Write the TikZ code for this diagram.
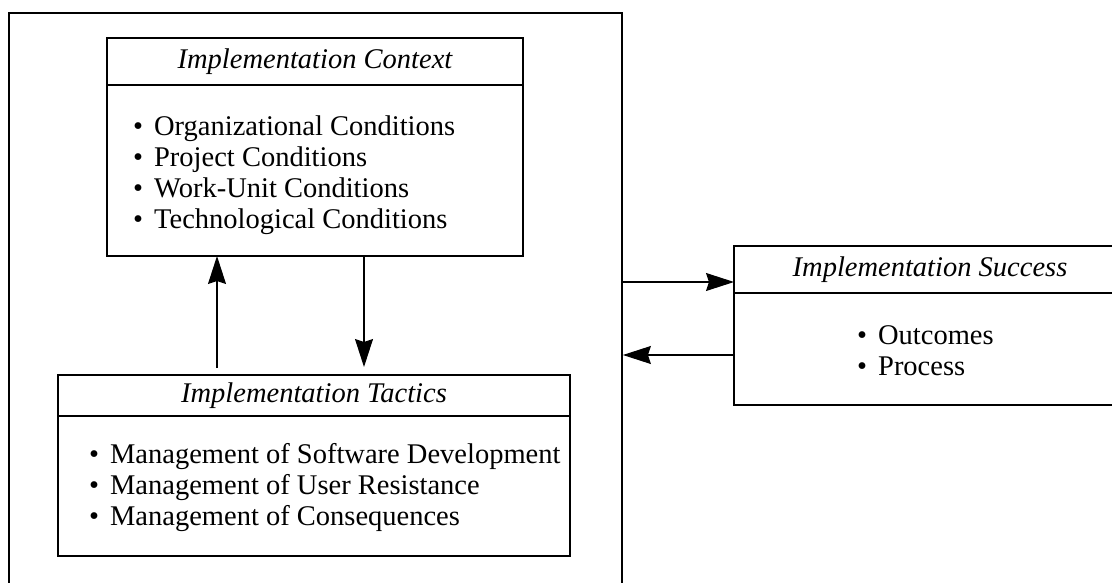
\documentclass[tikz,border=0pt]{standalone}
\usepackage{fontspec}
\setmainfont{Liberation Serif}
\usetikzlibrary{positioning,arrows.meta}
\newcommand{\itm}{\textbullet\hspace{11pt}}
\newcommand{\boxfont}{\fontsize{28.5}{31}\selectfont}
\tikzset{
  head/.style={draw, line width=1.2pt, inner sep=0pt, outer sep=0pt, font=\boxfont\itshape},
  body/.style={draw, line width=1.2pt, inner sep=0pt, outer sep=0pt},
  items/.style={align=left, anchor=west, inner sep=0pt, font=\boxfont},
  arrow/.style={-{Stealth[length=28pt,width=18pt,inset=3pt]}, line width=1.2pt},
}
\begin{document}
\begin{tikzpicture}[x=1pt,y=-1pt]
  \clip (0,0) rectangle (1112,583);
  % outer frame, open at the bottom of the page
  \node[draw, line width=1.8pt, minimum width=613pt, minimum height=600pt] (frame) at (315.5,313) {};

  % context
  \node[head, minimum width=416pt, minimum height=47pt] (ctxhead) at (315,61.5) {Implementation Context};
  \node[body, minimum width=416pt, minimum height=171pt, below=0pt of ctxhead] (ctxbody) {};
  \node[items] (ctxitems) at ([xshift=26pt,yshift=-4.5pt]ctxbody.west) {\itm Organizational Conditions\\ \itm Project Conditions\\ \itm Work-Unit Conditions\\ \itm Technological Conditions};

  % tactics
  \node[head, minimum width=512pt, minimum height=41pt] (tachead) at (314,395.5) {Implementation Tactics};
  \node[body, minimum width=512pt, minimum height=140pt, below=0pt of tachead] (tacbody) {};
  \node[items] (tacitems) at ([xshift=31pt,yshift=-1.5pt]tacbody.west) {\itm Management of Software Development\\ \itm Management of User Resistance\\ \itm Management of Consequences};

  % success, cut by the right page edge
  \node[head, minimum width=392pt, minimum height=47pt] (succhead) at (930,269.5) {Implementation Success};
  \node[body, minimum width=392pt, minimum height=112pt, below=0pt of succhead] (succbody) {};
  \node[items] (succitems) at ([xshift=123pt,yshift=-2pt]succbody.west) {\itm Outcomes\\ \itm Process};

  % arrows
  \draw[arrow, shorten <=7pt] ([xshift=-97pt]tachead.north) -- ([xshift=-97pt]tachead.north |- ctxbody.south);
  \draw[arrow, shorten >=8pt] ([xshift=49pt]ctxbody.south) -- ([xshift=49pt]ctxbody.south |- tachead.north);
  \draw[arrow] ([yshift=-12.5pt]succhead.west -| frame.east) -- ([yshift=-12.5pt]succhead.west);
  \draw[arrow] ([yshift=-6pt]succbody.west) -- ([yshift=-6pt]succbody.west -| frame.east);
\end{tikzpicture}
\end{document}
